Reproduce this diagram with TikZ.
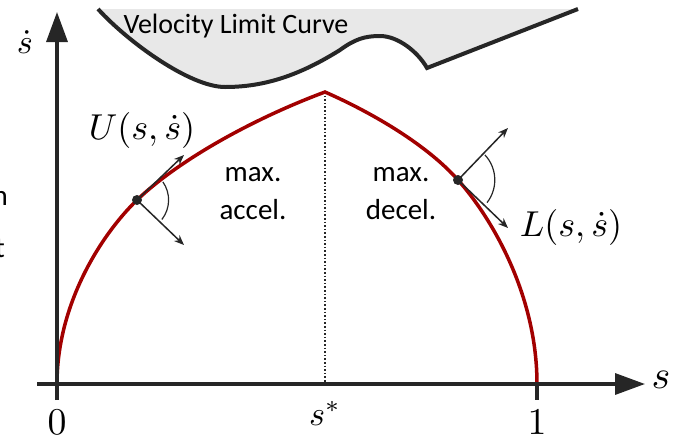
\documentclass[tikz,border=0pt]{standalone}
\usepackage{fontspec}
\setmainfont{Carlito}
\usetikzlibrary{arrows.meta}
\definecolor{ink}{HTML}{262626}
\definecolor{brick}{HTML}{A20000}
\definecolor{haze}{HTML}{E8E8E8}

\begin{document}
\begin{tikzpicture}[x=1pt, y=-1pt,
          ax/.style={ink, line width=3.4pt},
          vec/.style={ink, line width=1.5pt, -{Stealth[length=10pt,width=8pt]}},
          lbl/.style={inner sep=0pt, align=center, font=\fontsize{29}{38}\selectfont},
          mth/.style={inner sep=0pt, scale=3.6}]
        \useasboundingbox (0,0) rectangle (673,440);
        \coordinate (peak) at (325,92);
        \coordinate (pU) at (137,200);
        \coordinate (pL) at (458,180);
        \coordinate (uT) at (184,155);
        \coordinate (uN) at (184,245);
        \coordinate (lT) at (508,128);
        \coordinate (lN) at (508,228);
        \draw[ink, line width=4pt, fill=haze] (98,9) .. controls (128,42) and (190,87) .. (225,87)
          .. controls (265,87) and (300,75) .. (340,50) .. controls (355,39) and (365,36) .. (380,36)
          .. controls (398,36) and (418,52) .. (427,68) -- (578,9);
        \node[anchor=base, inner sep=0pt, font=\fontsize{28}{30}\selectfont] (vlc) at (236,33) {Velocity Limit Curve};
        \draw[ink, line width=1.2pt, dash pattern=on 1.6pt off 2pt] (peak) -- (325,384);
        \draw[brick, line width=3.5pt] (57,384) .. controls (57,304) and (101,235) .. (pU)
          .. controls (180,159) and (255,118) .. (peak) .. controls (375,114) and (428,146) .. (pL)
          .. controls (491,217) and (537,294) .. (537,384);
        \draw[ax, -{Triangle[length=30pt,width=21pt]}] (37,384) -- (645,384);
        \draw[ax, -{Triangle[length=30pt,width=21pt]}] (57,400) -- (57,12);
        \draw[ax] (537,384) -- (537,400);
        \fill[ink] (pU) circle (5pt);
        \fill[ink] (pL) circle (5pt);
        \draw[vec] (pU) -- (uT);
        \draw[vec] (pU) -- (uN);
        \draw[vec] (pL) -- (lT);
        \draw[vec] (pL) -- (lN);
        \draw[ink, line width=1.2pt] (pU) ++(-35:31.6) arc[start angle=-35, end angle=38, radius=31.6];
        \draw[ink, line width=1.2pt] (pL) ++(-43:36.8) arc[start angle=-43, end angle=38, radius=36.8];
        \node[mth] (U) at (142,130) {$U(s,\dot s)$};
        \node[mth] (L) at (571,227) {$L(s,\dot s)$};
        \node[lbl] (acc) at (253,194) {max.\\accel.};
        \node[lbl] (dec) at (401,194) {max.\\decel.};
        \node[mth, anchor=base, scale=0.95] (sd) at (25,53) {$\dot s$};
        \node[mth, scale=1.11] (s) at (661,380) {$s$};
        \node[mth, anchor=base, scale=0.95] (sst) at (325,425) {$s^*$};
        \node[mth, scale=1.05] (zero) at (57,422) {$0$};
        \node[mth, scale=1.05] (one) at (537,422) {$1$};
        \node[lbl, anchor=base east] (frag1) at (8,205) {n};
        \node[lbl, anchor=base east] (frag2) at (5,257) {t};
      \end{tikzpicture}
\end{document}
